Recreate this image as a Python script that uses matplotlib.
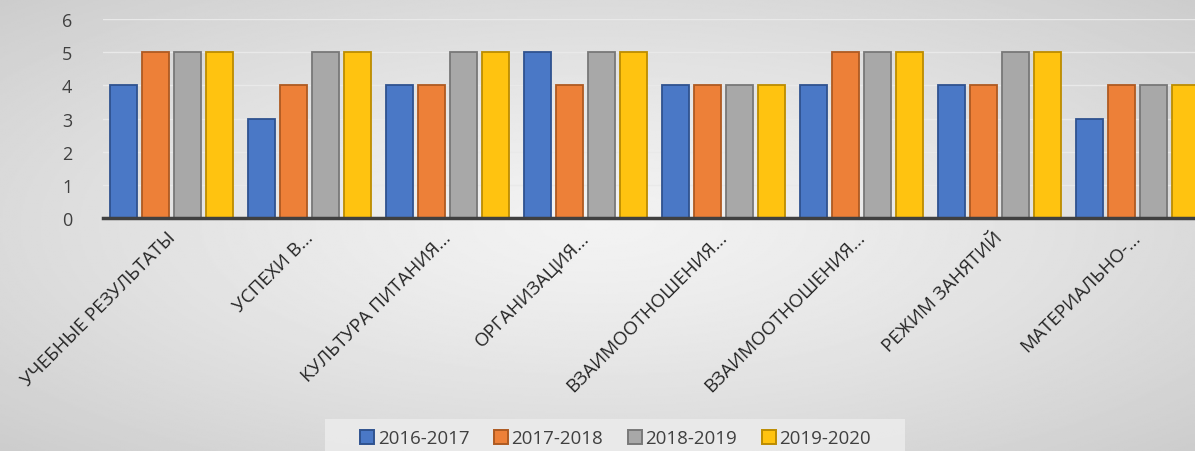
import numpy as np
import matplotlib
matplotlib.use("Agg")
import matplotlib.pyplot as plt
from matplotlib.patches import Patch, Rectangle

plt.rcParams["font.family"] = ["Open Sans", "DejaVu Sans"]

categories = ["УЧЕБНЫЕ РЕЗУЛЬТАТЫ", "УСПЕХИ В...", "КУЛЬТУРА ПИТАНИЯ...", "ОРГАНИЗАЦИЯ...",
              "ВЗАИМООТНОШЕНИЯ...", "ВЗАИМООТНОШЕНИЯ...", "РЕЖИМ ЗАНЯТИЙ", "МАТЕРИАЛЬНО-..."]
series_names = ["2016-2017", "2017-2018", "2018-2019", "2019-2020"]
y2016 = [4, 3, 4, 5, 4, 4, 4, 3]
y2017 = [5, 4, 4, 4, 4, 5, 4, 4]
y2018 = [5, 5, 5, 5, 4, 5, 5, 4]
y2019 = [5, 5, 5, 5, 4, 5, 5, 4]
series = [y2016, y2017, y2018, y2019]

FILL = ["#4a78c6", "#ED8038", "#A8A8A8", "#FFC310"]
EDGE = ["#2F528F", "#AE5A21", "#787878", "#BC8C00"]

fig = plt.figure(figsize=(11.95, 4.52), dpi=100)

# radial grey background
bg = fig.add_axes([0, 0, 1, 1], zorder=0)
yy, xx = np.mgrid[0:1:300j, 0:1:600j]
r = np.sqrt(((xx - 0.5) / 0.75) ** 2 + ((yy - 0.5) / 0.75) ** 2)
shade = 0.95 - 0.16 * np.clip(r, 0, 1) ** 1.3
bg.imshow(shade, cmap="gray", vmin=0, vmax=1, aspect="auto", extent=[0, 1, 0, 1])
bg.axis("off")

ax = fig.add_axes([0.0862, 0.515, 0.9138, 0.441], zorder=1)
ax.patch.set_alpha(0)

x = np.arange(len(categories))
pitch = 0.232
width = 0.196
for i, vals in enumerate(series):
    ax.bar(x + (i - 1.5) * pitch, vals, width, color=FILL[i], edgecolor=EDGE[i],
           linewidth=1.3, zorder=3)

ax.set_xlim(-0.5, 7.42)
ax.set_ylim(0, 6)
ax.set_yticks(range(7))
ax.yaxis.grid(True, color="#e9e9e9", linewidth=1.0, zorder=0)
for s in ["top", "right", "left"]:
    ax.spines[s].set_visible(False)
ax.spines["bottom"].set_color("#404040")
ax.spines["bottom"].set_linewidth(2.5)
ax.spines["bottom"].set_zorder(4)
ax.tick_params(axis="y", length=0, pad=22, labelsize=13, labelcolor="#404040")
ax.tick_params(axis="x", length=0, pad=7)
ax.set_xticks(x - 0.04)
ax.set_xticklabels(categories, rotation=45, ha="right", rotation_mode="anchor",
                   fontsize=13.5, color="#262626")

# legend band
fig.patches.append(Rectangle((325 / 1195, 0), 580 / 1195, 32 / 452, transform=fig.transFigure,
                             facecolor="#ececec", edgecolor="none", alpha=0.85, zorder=1))
handles = [Patch(facecolor=FILL[i], edgecolor=EDGE[i], linewidth=1.4) for i in range(4)]
leg = fig.legend(handles, series_names, loc="center", bbox_to_anchor=(0.515, 0.028),
                 ncol=4, fontsize=13.5, frameon=False, handlelength=0.75, handleheight=0.75,
                 handletextpad=0.2, columnspacing=1.3)
for t in leg.get_texts():
    t.set_color("#404040")

fig.savefig("out.png", dpi=100)
